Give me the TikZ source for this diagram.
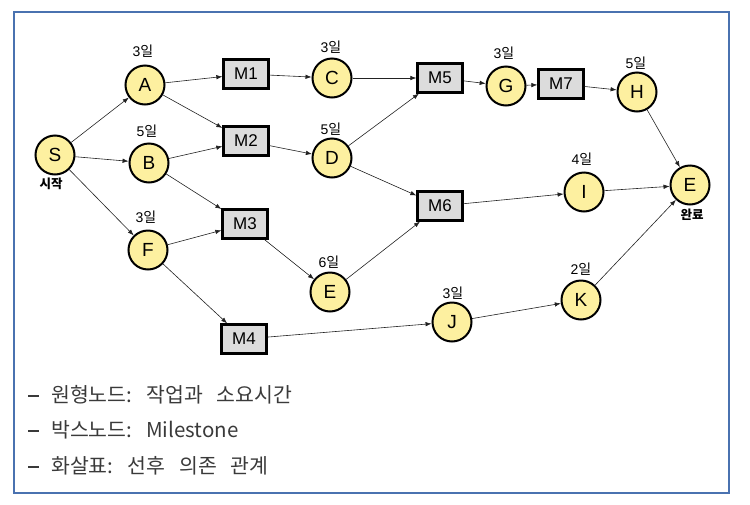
\documentclass[tikz,border=0pt]{standalone}
\usepackage{fontspec}
\setmainfont{Liberation Sans}
\newfontfamily\krfont{Noto Sans CJK KR}
\usetikzlibrary{arrows.meta}
\definecolor{framecol}{HTML}{4A72B0}
\definecolor{nodefill}{HTML}{FDF0A0}
\definecolor{boxfill}{HTML}{DCDCDC}
\definecolor{edgecol}{HTML}{222222}
\definecolor{legcol}{HTML}{3A3A3A}
\tikzset{
  circnode/.style={circle,draw=black,line width=2pt,fill=nodefill,minimum size=39pt,inner sep=0pt,font=\fontsize{19}{19}\selectfont},
  boxnode/.style={rectangle,draw=black,line width=2.3pt,fill=boxfill,minimum width=45pt,minimum height=29pt,inner sep=0pt,font=\fontsize{17}{17}\selectfont},
  daylbl/.style={inner sep=0pt,font=\fontsize{14}{14}\selectfont},
  captxt/.style={inner sep=0pt,font=\krfont\bfseries\fontsize{12.5}{13}\selectfont},
  edgearrow/.style={draw=edgecol,line width=0.6pt,-{Latex[length=6pt,width=4.5pt]}},
  legendtxt/.style={anchor=west,inner sep=0pt,text=legcol,font=\krfont\fontsize{20.5}{21}\selectfont},
}
\newcommand\kr[1]{{\krfont #1}}
\newcommand\legdash{\rule[0.3em]{11pt}{1.3pt}\hspace{12pt}}
\begin{document}
\begin{tikzpicture}[x=1pt,y=-1pt]
\useasboundingbox (0,0) rectangle (750,504);
\draw[framecol,line width=2.4pt] (14,12) rectangle (729,493);

% circle nodes
\node[circnode] (S) at (55,155) {S};
\node[circnode] (A) at (145,85) {A};
\node[circnode] (B) at (149,163) {B};
\node[circnode] (F) at (148,250) {F};
\node[circnode] (C) at (332,78) {C};
\node[circnode] (D) at (332,158) {D};
\node[circnode] (E6) at (330,292) {E};
\node[circnode] (G) at (506,86) {G};
\node[circnode] (H) at (637,92) {H};
\node[circnode] (I) at (584,192) {I};
\node[circnode] (J) at (452,322) {J};
\node[circnode] (K) at (581,300) {K};
\node[circnode] (End) at (690,185) {E};

% box nodes
\node[boxnode] (M1) at (246,74) {M1};
\node[boxnode] (M2) at (246,141) {M2};
\node[boxnode] (M3) at (245,224) {M3};
\node[boxnode] (M4) at (244,339) {M4};
\node[boxnode] (M5) at (440,78) {M5};
\node[boxnode] (M6) at (440,206) {M6};
\node[boxnode] (M7) at (561,84) {M7};

% day labels
\node[daylbl] (dA) at (143,51) {3\kr{일}};
\node[daylbl] (dB) at (147,131) {5\kr{일}};
\node[daylbl] (dF) at (146,217) {3\kr{일}};
\node[daylbl] (dC) at (331,47) {3\kr{일}};
\node[daylbl] (dD) at (331,129) {5\kr{일}};
\node[daylbl] (dE6) at (329,262) {6\kr{일}};
\node[daylbl] (dG) at (504,53) {3\kr{일}};
\node[daylbl] (dH) at (636,63) {5\kr{일}};
\node[daylbl] (dI) at (582,159) {4\kr{일}};
\node[daylbl] (dJ) at (453,293) {3\kr{일}};
\node[daylbl] (dK) at (581,269) {2\kr{일}};

% captions
\node[captxt] (capS) at (51,184) {시작};
\node[captxt] (capE) at (692,215) {완료};

% edges
\draw[edgearrow] (S) -- (A);
\draw[edgearrow] (S) -- (B);
\draw[edgearrow] (S) -- (F);
\draw[edgearrow] (A) -- (M1);
\draw[edgearrow] (A) -- (M2);
\draw[edgearrow] (B) -- (M2);
\draw[edgearrow] (B) -- (M3);
\draw[edgearrow] (F) -- (M3);
\draw[edgearrow] (F) -- (M4);
\draw[edgearrow] (M1) -- (C);
\draw[edgearrow] (M2) -- (D);
\draw[edgearrow] (M3) -- (E6);
\draw[edgearrow] (C) -- (M5);
\draw[edgearrow] (D) -- (M5);
\draw[edgearrow] (D) -- (M6);
\draw[edgearrow] (E6) -- (M6);
\draw[edgearrow] (M5) -- (G);
\draw[edgearrow] (G) -- (M7);
\draw[edgearrow] (M7) -- (H);
\draw[edgearrow] (H) -- (End);
\draw[edgearrow] (M6) -- (I);
\draw[edgearrow] (I) -- (End);
\draw[edgearrow] (M4) -- (J);
\draw[edgearrow] (J) -- (K);
\draw[edgearrow] (K) -- (End);

% legend
\node[legendtxt] (L1) at (28,395) {\legdash 원형노드:\hspace{14pt}작업과\hspace{14pt}소요시간};
\node[legendtxt] (L2) at (28,430) {\legdash 박스노드:\hspace{14pt}Milestone};
\node[legendtxt] (L3) at (28,466) {\legdash 화살표:\hspace{14pt}선후\hspace{14pt}의존\hspace{14pt}관계};
\end{tikzpicture}
\end{document}
